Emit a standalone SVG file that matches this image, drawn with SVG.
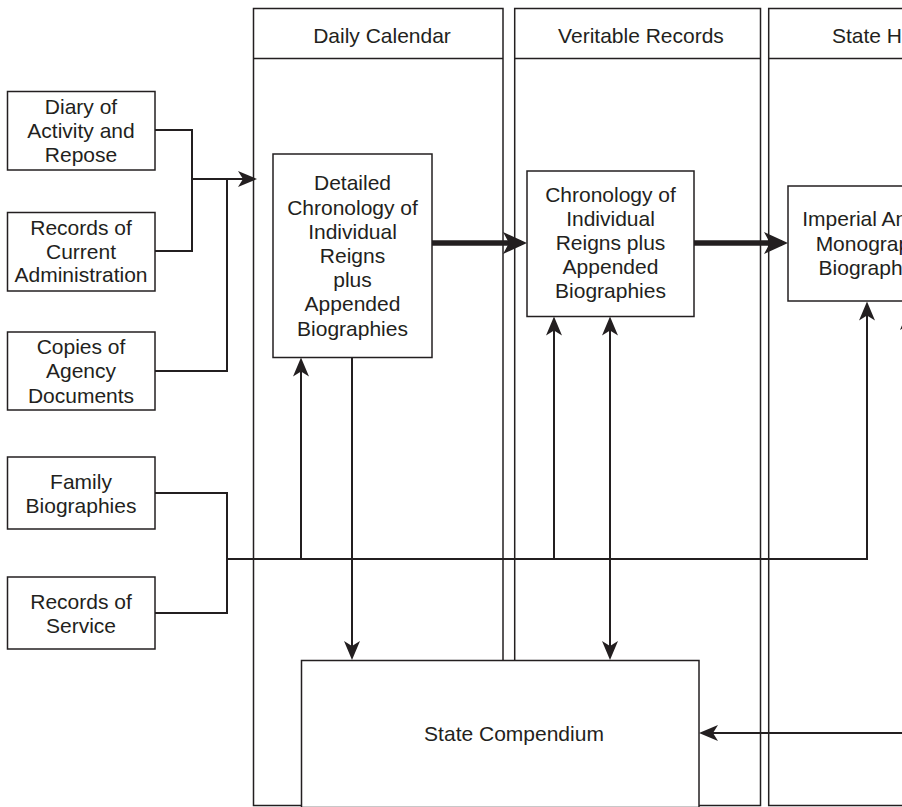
<svg xmlns="http://www.w3.org/2000/svg" width="902" height="807" viewBox="0 0 902 807">
<style>
.box{fill:#fff;stroke:#231f20;stroke-width:1.5}
.lane{fill:none;stroke:#231f20;stroke-width:1.5}
.t{font-family:"Liberation Sans",Arial,sans-serif;font-size:21px;fill:#231f20;text-anchor:middle}
.c{fill:none;stroke:#231f20;stroke-width:2}
.k{fill:none;stroke:#231f20;stroke-width:5.5}
</style>
<defs>
<marker id="a" markerUnits="userSpaceOnUse" markerWidth="30" markerHeight="30" refX="0" refY="0" orient="auto-start-reverse" overflow="visible">
<path d="M6,0 L-13,-8 L-8,0 L-13,8 Z" fill="#231f20"/>
</marker>
<marker id="b" markerUnits="userSpaceOnUse" markerWidth="40" markerHeight="40" refX="0" refY="0" orient="auto" overflow="visible">
<path d="M6,0 L-18,-11 L-12,0 L-18,11 Z" fill="#231f20"/>
</marker>
</defs>
<rect width="902" height="807" fill="#fff"/>
<g id="lane-daily">
<rect class="lane" x="253.5" y="8.5" width="249.5" height="797"/>
<line class="lane" x1="253.5" y1="58.5" x2="503" y2="58.5"/>
<text class="t" x="382" y="42.5">Daily Calendar</text>
</g>
<g id="lane-veritable">
<rect class="lane" x="514.7" y="8.5" width="245.8" height="797"/>
<line class="lane" x1="514.7" y1="58.5" x2="760.5" y2="58.5"/>
<text class="t" x="641" y="42.5">Veritable Records</text>
</g>
<g id="lane-state">
<rect class="lane" x="768.7" y="8.5" width="260" height="797"/>
<line class="lane" x1="768.7" y1="58.5" x2="1028" y2="58.5"/>
<text class="t" x="892" y="42.5">State History</text>
</g>
<g id="connectors">
<polyline class="c" points="155,130 192,130 192,251 155,251"/>
<line class="c" x1="192" y1="179" x2="251" y2="179" marker-end="url(#a)"/>
<polyline class="c" points="227,179 227,371 155,371"/>
<polyline class="c" points="155,493 227,493 227,613 155,613"/>
<polyline class="c" points="227,559 867,559 867,307.5" marker-end="url(#a)"/>
<line class="c" x1="301" y1="559" x2="301" y2="363.5" marker-end="url(#a)"/>
<line class="c" x1="554" y1="559" x2="554" y2="322.5" marker-end="url(#a)"/>
<line class="c" x1="352" y1="357.5" x2="352" y2="654" marker-end="url(#a)"/>
<line class="c" x1="610" y1="322.5" x2="610" y2="654" marker-start="url(#a)" marker-end="url(#a)"/>
<line class="c" x1="908" y1="760" x2="908" y2="317" marker-end="url(#a)"/>
<line class="k" x1="432" y1="243" x2="521" y2="243" marker-end="url(#b)"/>
<line class="k" x1="694" y1="243" x2="782" y2="243" marker-end="url(#b)"/>
</g>
<g id="diary">
<rect class="box" x="7.5" y="91.5" width="147.5" height="78.5"/>
<text class="t" x="81" y="113.5">Diary of<tspan x="81" dy="24">Activity and</tspan><tspan x="81" dy="24">Repose</tspan></text>
</g>
<g id="current-admin">
<rect class="box" x="7.5" y="212.5" width="147.5" height="78.5"/>
<text class="t" x="81" y="234.5">Records of<tspan x="81" dy="24">Current</tspan><tspan x="81" dy="23.5">Administration</tspan></text>
</g>
<g id="agency-docs">
<rect class="box" x="7.5" y="332" width="147.5" height="78"/>
<text class="t" x="81" y="354">Copies of<tspan x="81" dy="24.3">Agency</tspan><tspan x="81" dy="24.2">Documents</tspan></text>
</g>
<g id="family-bio">
<rect class="box" x="7.5" y="457" width="147.5" height="72"/>
<text class="t" x="81" y="489">Family<tspan x="81" dy="24">Biographies</tspan></text>
</g>
<g id="service">
<rect class="box" x="7.5" y="577" width="147.5" height="72"/>
<text class="t" x="81" y="609">Records of<tspan x="81" dy="24">Service</tspan></text>
</g>
<g id="detailed">
<rect class="box" x="273" y="154" width="159" height="203.5"/>
<text class="t" x="352.5" y="190.4">Detailed<tspan x="352.5" dy="24.2">Chronology of</tspan><tspan x="352.5" dy="24.2">Individual</tspan><tspan x="352.5" dy="24.2">Reigns</tspan><tspan x="352.5" dy="24.2">plus</tspan><tspan x="352.5" dy="24.2">Appended</tspan><tspan x="352.5" dy="24.2">Biographies</tspan></text>
</g>
<g id="veritable-chronology">
<rect class="box" x="527" y="171" width="167" height="145.5"/>
<text class="t" x="610.5" y="202">Chronology of<tspan x="610.5" dy="24">Individual</tspan><tspan x="610.5" dy="24">Reigns plus</tspan><tspan x="610.5" dy="24">Appended</tspan><tspan x="610.5" dy="24">Biographies</tspan></text>
</g>
<g id="imperial">
<rect class="box" x="788" y="186" width="172" height="115"/>
<text class="t" x="874" y="226.3">Imperial Annals<tspan x="874" dy="24.2">Monographs</tspan><tspan x="874" dy="24.2">Biographies</tspan></text>
</g>
<g id="compendium">
<rect class="box" x="301.5" y="660.5" width="397.5" height="147"/>
<text class="t" x="514" y="740.5">State Compendium</text>
</g>
<g id="connectors-2">
<line class="c" x1="902" y1="733" x2="705" y2="733" marker-end="url(#a)"/>
</g>
</svg>
